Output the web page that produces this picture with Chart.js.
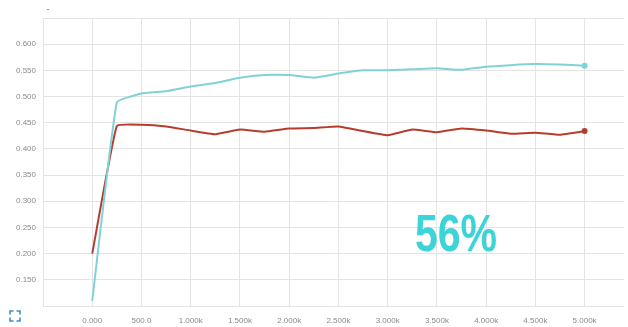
<!DOCTYPE html>
<html>
<head>
<meta charset="utf-8">
<script src="https://cdn.jsdelivr.net/npm/chart.js@4/dist/chart.umd.min.js"></script>
<style>
  body { margin: 0; background: #fff; }
  #wrap { width: 628px; height: 327px; }
</style>
</head>
<body>
<div id="wrap"><canvas id="chart" width="628" height="327"></canvas></div>
<script>
'use strict';

const STEPS = [0, 250, 500, 750, 1000, 1250, 1500, 1750, 2000, 2250, 2500, 2750, 3000, 3250, 3500, 3750, 4000, 4250, 4500, 4750, 5000];
const CYAN_VALUES = [0.110, 0.489, 0.506, 0.510, 0.519, 0.526, 0.536, 0.541, 0.541, 0.536, 0.544, 0.550, 0.550, 0.552, 0.554, 0.551, 0.557, 0.560, 0.562, 0.561, 0.559];
const RED_VALUES = [0.200, 0.444, 0.446, 0.443, 0.435, 0.428, 0.437, 0.433, 0.439, 0.440, 0.443, 0.434, 0.426, 0.437, 0.432, 0.439, 0.435, 0.429, 0.431, 0.427, 0.434];

const X_TICKS = [-500, 0, 500, 1000, 1500, 2000, 2500, 3000, 3500, 4000, 4500, 5000];
const X_TICK_LABELS = ['', '0.000', '500.0', '1.000k', '1.500k', '2.000k', '2.500k', '3.000k', '3.500k', '4.000k', '4.500k', '5.000k'];
const Y_TICKS = [0.10, 0.15, 0.20, 0.25, 0.30, 0.35, 0.40, 0.45, 0.50, 0.55, 0.60, 0.65];
const Y_TICK_LABELS = ['', '0.150', '0.200', '0.250', '0.300', '0.350', '0.400', '0.450', '0.500', '0.550', '0.600', ''];

const ANNOTATION = '56%';
const TITLE = '-';

const CYAN = '#7fd2d7';
const RED = '#b63d2d';
const GRID = '#e4e4e4';
const TICK_COLOR = '#8a8a8a';

function toPoints(values) {
  return STEPS.map((step, i) => ({ x: step, y: values[i] }));
}

function lastPointRadius(ctx) {
  return ctx.dataIndex === STEPS.length - 1 ? 3 : 0;
}

const overlay = {
  id: 'overlay',
  afterDraw(chart) {
    const ctx = chart.ctx;
    ctx.save();
    // big percentage label
    ctx.fillStyle = '#3dd4d9';
    ctx.font = 'bold 52px "Liberation Sans", Arial, sans-serif';
    ctx.textAlign = 'center';
    ctx.textBaseline = 'alphabetic';
    ctx.translate(456, 251);
    ctx.scale(0.79, 1);
    ctx.fillText(ANNOTATION, 0, 0);
    ctx.restore();

    ctx.save();
    ctx.fillStyle = '#777';
    ctx.font = '9px "Liberation Sans", Arial, sans-serif';
    ctx.textAlign = 'center';
    ctx.fillText(TITLE, 48, 12);

    // expand icon, bottom left
    ctx.strokeStyle = '#3b8ed8';
    ctx.lineWidth = 1.6;
    const x0 = 10, y0 = 311, s = 10, c = 3.5;
    ctx.beginPath();
    ctx.moveTo(x0, y0 + c); ctx.lineTo(x0, y0); ctx.lineTo(x0 + c, y0);
    ctx.moveTo(x0 + s - c, y0); ctx.lineTo(x0 + s, y0); ctx.lineTo(x0 + s, y0 + c);
    ctx.moveTo(x0, y0 + s - c); ctx.lineTo(x0, y0 + s); ctx.lineTo(x0 + c, y0 + s);
    ctx.moveTo(x0 + s - c, y0 + s); ctx.lineTo(x0 + s, y0 + s); ctx.lineTo(x0 + s, y0 + s - c);
    ctx.stroke();
    ctx.restore();
  }
};

new Chart(document.getElementById('chart').getContext('2d'), {
  type: 'line',
  data: {
    datasets: [
      {
        label: 'cyan',
        data: toPoints(CYAN_VALUES),
        borderColor: CYAN,
        backgroundColor: CYAN,
        borderWidth: 2,
        pointRadius: lastPointRadius,
        pointBorderWidth: 0,
        tension: 0.1,
        fill: false
      },
      {
        label: 'red',
        data: toPoints(RED_VALUES),
        borderColor: RED,
        backgroundColor: RED,
        borderWidth: 2,
        pointRadius: lastPointRadius,
        pointBorderWidth: 0,
        tension: 0.1,
        fill: false
      }
    ]
  },
  options: {
    responsive: false,
    animation: false,
    layout: { padding: { top: 18, right: 0, bottom: 0, left: 0 } },
    plugins: {
      legend: { display: false },
      tooltip: { enabled: false }
    },
    scales: {
      x: {
        type: 'linear',
        min: -500,
        max: 5400,
        afterBuildTicks: scale => { scale.ticks = X_TICKS.map(value => ({ value })); },
        afterFit: scale => { scale.height = 21; },
        border: { display: false },
        grid: { color: GRID, drawTicks: false },
        ticks: {
          autoSkip: false,
          maxRotation: 0,
          padding: 10,
          color: TICK_COLOR,
          font: { size: 8, family: '"Liberation Sans", Arial, sans-serif' },
          callback: (value, index) => X_TICK_LABELS[index]
        }
      },
      y: {
        min: 0.1,
        max: 0.65,
        afterBuildTicks: scale => { scale.ticks = Y_TICKS.map(value => ({ value })); },
        afterFit: scale => { scale.width = 43; },
        border: { display: false },
        grid: { color: GRID, drawTicks: false },
        ticks: {
          autoSkip: false,
          padding: 7,
          color: TICK_COLOR,
          font: { size: 8, family: '"Liberation Sans", Arial, sans-serif' },
          callback: (value, index) => Y_TICK_LABELS[index]
        }
      }
    }
  },
  plugins: [overlay]
});
</script>
</body>
</html>
